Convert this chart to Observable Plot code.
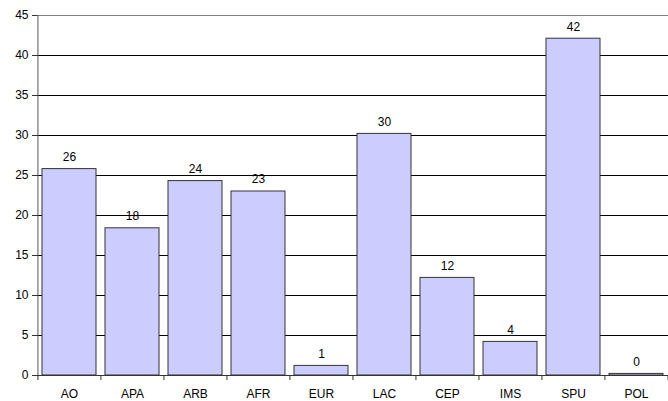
<!DOCTYPE html>
<html>
<head>
<meta charset="utf-8">
<script src="https://cdn.jsdelivr.net/npm/d3@7"></script>
<script src="https://cdn.jsdelivr.net/npm/@observablehq/plot@0.6"></script>
<style>
  html, body { margin: 0; padding: 0; background: #fff; }
  svg { display: block; }
</style>
</head>
<body>
<div id="chart"></div>
<script>
const categories = ["AO", "APA", "ARB", "AFR", "EUR", "LAC", "CEP", "IMS", "SPU", "POL"];
const values = [25.8, 18.4, 24.3, 23.0, 1.2, 30.2, 12.2, 4.2, 42.1, 0.2];
const yTicks = [0, 5, 10, 15, 20, 25, 30, 35, 40, 45];

const data = categories.map((c, i) => ({cat: c, val: values[i]}));

const W = 668, H = 401, ML = 37, MR = 0, MT = 15, MB = 26;
const step = (W - ML - MR) / categories.length;
const pxPerUnit = (H - MT - MB) / (yTicks[yTicks.length - 1] - yTicks[0]);
const tickLen = 5 / pxPerUnit;

const chart = Plot.plot({
  width: W,
  height: H,
  marginLeft: ML,
  marginRight: MR,
  marginTop: MT,
  marginBottom: MB,
  style: {fontFamily: "'Liberation Sans', Arial, sans-serif", fontSize: "12px", color: "#000", background: "#fff"},
  x: {domain: categories, paddingInner: 0.14, paddingOuter: 0.07, axis: null},
  y: {domain: [0, 45], axis: null},
  marks: [
    Plot.ruleY(yTicks.filter(v => v > 0 && v < 45), {stroke: "#000", strokeWidth: 1}),
    Plot.ruleY([45], {stroke: "#808080", strokeWidth: 1}),
    Plot.barY(data, {x: "cat", y: "val", fill: "#ccccff", stroke: "#333", strokeWidth: 1}),
    Plot.ruleY([0], {stroke: "#333", strokeWidth: 1}),
    Plot.ruleX([categories[0]], {x: d => d, dx: -step / 2, y1: 0, y2: 45, stroke: "#555"}),
    Plot.ruleX(categories, {x: d => d, dx: -step / 2, y1: 0, y2: -tickLen, stroke: "#333"}),
    Plot.ruleX([categories[categories.length - 1]], {x: d => d, dx: step / 2, y1: 0, y2: -tickLen, stroke: "#333"}),
    Plot.text(data, {x: "cat", y: "val", text: d => String(Math.round(d.val)), dy: -12, fontSize: 12, fill: "#000"}),
    Plot.axisX({domain: categories, tickSize: 0, tickPadding: 14, label: null, fontSize: 12}),
    Plot.axisY({ticks: yTicks, tickSize: 5, tickPadding: 4, label: null, fontSize: 12, stroke: "#333"})
  ]
});
document.getElementById("chart").appendChild(chart);
</script>
</body>
</html>
